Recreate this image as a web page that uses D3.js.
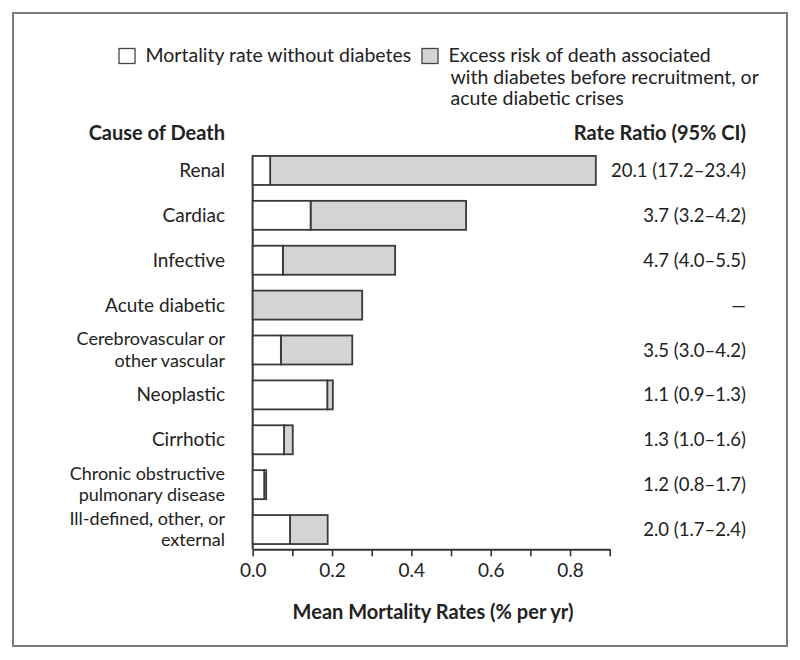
<!DOCTYPE html>
<html>
<head>
<meta charset="utf-8">
<script src="https://cdn.jsdelivr.net/npm/d3@7/dist/d3.min.js"></script>
<style>
  html, body { margin: 0; padding: 0; background: #fff; }
  svg { display: block; }
  text { font-family: Lato, "Open Sans", sans-serif; fill: #222; }
</style>
</head>
<body>
<svg id="chart" width="800" height="660"></svg>
<script>
// ---- Data ----
const categories = [
  ["Renal"],
  ["Cardiac"],
  ["Infective"],
  ["Acute diabetic"],
  ["Cerebrovascular or", "other vascular"],
  ["Neoplastic"],
  ["Cirrhotic"],
  ["Chronic obstructive", "pulmonary disease"],
  ["Ill-defined, other, or", "external"]
];
const withoutDiabetes = [0.044, 0.146, 0.076, 0.000, 0.071, 0.188, 0.079, 0.029, 0.094];
const excessRisk      = [0.821, 0.392, 0.283, 0.276, 0.180, 0.014, 0.022, 0.005, 0.095];
const rateRatios = [
  "20.1 (17.2\u201323.4)",
  "3.7 (3.2\u20134.2)",
  "4.7 (4.0\u20135.5)",
  "\u2014",
  "3.5 (3.0\u20134.2)",
  "1.1 (0.9\u20131.3)",
  "1.3 (1.0\u20131.6)",
  "1.2 (0.8\u20131.7)",
  "2.0 (1.7\u20132.4)"
];
const xTicks = [0, 0.1, 0.2, 0.3, 0.4, 0.5, 0.6, 0.7, 0.8, 0.9];
const xTickLabels = ["0.0", "", "0.2", "", "0.4", "", "0.6", "", "0.8", ""];
const legendLabels = [
  ["Mortality rate without diabetes"],
  ["Excess risk of death associated", "with diabetes before recruitment, or", "acute diabetic crises"]
];

// ---- Drawing ----
const svg = d3.select("#chart");
const fsLabel = 19, fsLabel2 = 18, fsLegend = 19.5, fsRatio = 18.5, fsTick = 19, fsBold = 20;

svg.append("rect")
  .attr("x", 13).attr("y", 13).attr("width", 774).attr("height", 633)
  .attr("fill", "#fff").attr("stroke", "#7a7a7a").attr("stroke-width", 2);

const x = d3.scaleLinear().domain([0, 0.9]).range([252.7, 609.7]);
const idx = d3.range(categories.length);
const y = d3.scaleBand().domain(idx).range([148, 552]).paddingInner(0.354).paddingOuter(0.177);

const axisY = 549.3;

// vertical baseline
svg.append("line")
  .attr("x1", x(0)).attr("x2", x(0))
  .attr("y1", y(0)).attr("y2", axisY)
  .attr("stroke", "#333").attr("stroke-width", 2);

// bars
const stroke = "#3a3a3a";
const g = svg.append("g");
idx.forEach(i => {
  const w = withoutDiabetes[i], e = excessRisk[i];
  if (e > 0) {
    g.append("rect")
      .attr("x", x(w)).attr("y", y(i))
      .attr("width", x(w + e) - x(w)).attr("height", y.bandwidth())
      .attr("fill", "#d4d4d4").attr("stroke", stroke).attr("stroke-width", 1.8);
  }
  if (w > 0) {
    g.append("rect")
      .attr("x", x(0)).attr("y", y(i))
      .attr("width", x(w) - x(0)).attr("height", y.bandwidth())
      .attr("fill", "#fff").attr("stroke", stroke).attr("stroke-width", 1.8);
  }
});

// x axis
const xAxis = d3.axisBottom(x)
  .tickValues(xTicks)
  .tickFormat((d, i) => xTickLabels[i])
  .tickSize(7)
  .tickSizeOuter(0);
const ax = svg.append("g").attr("transform", `translate(0,${axisY})`).call(xAxis);
ax.select(".domain").attr("stroke", "#333").attr("stroke-width", 2);
ax.selectAll(".tick line").attr("stroke", "#333").attr("stroke-width", 1.6);
ax.selectAll(".tick text")
  .attr("font-family", "Lato, 'Open Sans', sans-serif")
  .attr("font-size", fsTick).attr("fill", "#222")
  .attr("y", 28).attr("dy", 0);

// axis title
svg.append("text")
  .attr("x", 433).attr("y", 619)
  .attr("text-anchor", "middle").attr("font-size", fsBold).attr("font-weight", "bold")
  .text("Mean Mortality Rates (% per yr)");

// headers
svg.append("text").attr("x", 225).attr("y", 140)
  .attr("text-anchor", "end").attr("font-size", fsBold).attr("font-weight", "bold")
  .text("Cause of Death");
svg.append("text").attr("x", 746).attr("y", 140)
  .attr("text-anchor", "end").attr("font-size", fsBold).attr("font-weight", "bold")
  .text("Rate Ratio (95% CI)");

// category labels and rate ratios
idx.forEach(i => {
  const c = y(i) + y.bandwidth() / 2;
  const lines = categories[i];
  if (lines.length === 1) {
    svg.append("text").attr("x", 225).attr("y", c + 6.5)
      .attr("text-anchor", "end").attr("font-size", fsLabel)
      .text(lines[0]);
  } else {
    lines.forEach((ln, k) => {
      svg.append("text").attr("x", 225)
        .attr("y", c - 5 + k * 21.6)
        .attr("text-anchor", "end").attr("font-size", fsLabel2)
        .text(ln);
    });
  }
  svg.append("text").attr("x", 746).attr("y", c + 6.5)
    .attr("text-anchor", "end").attr("font-size", fsRatio)
    .text(rateRatios[i]);
});

// legend
const legendX = [119, 422];
const legendFill = ["#fff", "#d4d4d4"];
legendLabels.forEach((lines, j) => {
  svg.append("rect")
    .attr("x", legendX[j]).attr("y", 48.5)
    .attr("width", 16).attr("height", 15)
    .attr("fill", legendFill[j]).attr("stroke", "#444").attr("stroke-width", 1.3);
  lines.forEach((ln, k) => {
    svg.append("text").attr("font-size", fsLegend)
      .attr("x", legendX[j] + 26.5 + (k > 0 ? 2 : 0))
      .attr("y", 62 + k * 21.7).text(ln);
  });
});
</script>
</body>
</html>
